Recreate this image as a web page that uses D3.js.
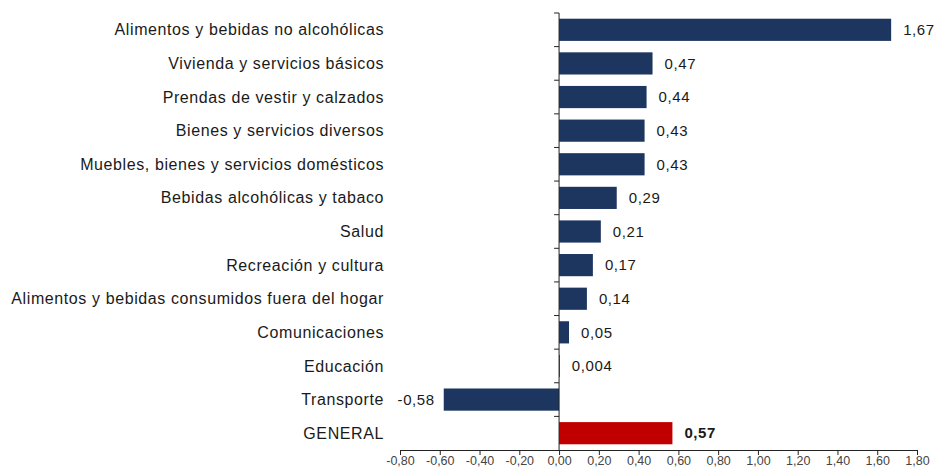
<!DOCTYPE html>
<html>
<head>
<meta charset="utf-8">
<script src="https://cdn.jsdelivr.net/npm/d3@7"></script>
<style>
  html, body { margin: 0; padding: 0; background: #ffffff; }
  svg { display: block; }
  text { font-family: "Liberation Sans", Arial, sans-serif; }
</style>
</head>
<body>
<svg id="chart" width="938" height="470"></svg>
<script>
// Variación porcentual por división de gasto
const categories = [
  "Alimentos y bebidas no alcohólicas",
  "Vivienda y servicios básicos",
  "Prendas de vestir y calzados",
  "Bienes y servicios diversos",
  "Muebles, bienes y servicios domésticos",
  "Bebidas alcohólicas y tabaco",
  "Salud",
  "Recreación y cultura",
  "Alimentos y bebidas consumidos fuera del hogar",
  "Comunicaciones",
  "Educación",
  "Transporte",
  "GENERAL"
];
const values = [1.67, 0.47, 0.44, 0.43, 0.43, 0.29, 0.21, 0.17, 0.14, 0.05, 0.004, -0.58, 0.57];
const valueLabels = ["1,67", "0,47", "0,44", "0,43", "0,43", "0,29", "0,21", "0,17", "0,14", "0,05", "0,004", "-0,58", "0,57"];
const xTicks = [-0.8, -0.6, -0.4, -0.2, 0, 0.2, 0.4, 0.6, 0.8, 1.0, 1.2, 1.4, 1.6, 1.8];

const svg = d3.select("#chart");

const x = d3.scaleLinear().domain([-0.8, 1.8]).range([400, 917]);
const y = d3.scaleBand().domain(categories).range([13, 450])
  .paddingInner(0.34).paddingOuter(0.17);

const fmt = v => v.toFixed(2).replace(".", ",");

// Bars
svg.append("g").selectAll("rect")
  .data(categories)
  .join("rect")
  .attr("x", (d, i) => x(Math.min(0, values[i])))
  .attr("y", d => y(d))
  .attr("width", (d, i) => Math.abs(x(values[i]) - x(0)))
  .attr("height", y.bandwidth())
  .attr("fill", d => d === "GENERAL" ? "#c00000" : "#1d3660");

// Category labels
svg.append("g").selectAll("text")
  .data(categories)
  .join("text")
  .attr("x", 384)
  .attr("y", d => y(d) + y.bandwidth() / 2)
  .attr("dy", "0.35em")
  .attr("text-anchor", "end")
  .attr("font-size", 16)
  .attr("letter-spacing", "0.6px")
  .attr("fill", "#1a1a1a")
  .text(d => d);

// Value labels
svg.append("g").selectAll("text")
  .data(categories)
  .join("text")
  .attr("x", (d, i) => values[i] < 0 ? x(values[i]) - 9 : x(values[i]) + 12)
  .attr("y", d => y(d) + y.bandwidth() / 2)
  .attr("dy", "0.35em")
  .attr("text-anchor", (d, i) => values[i] < 0 ? "end" : "start")
  .attr("font-size", 15)
  .attr("letter-spacing", "0.6px")
  .attr("font-weight", d => d === "GENERAL" ? "bold" : "normal")
  .attr("fill", "#1a1a1a")
  .text((d, i) => valueLabels[i]);

// Horizontal value axis
const xAxis = svg.append("g")
  .attr("transform", "translate(0,450)")
  .call(d3.axisBottom(x).tickValues(xTicks).tickFormat(fmt).tickSize(5).tickSizeOuter(0));
xAxis.select(".domain").attr("stroke", "#222");
xAxis.selectAll(".tick line").attr("stroke", "#222");
xAxis.selectAll(".tick text")
  .attr("font-size", 12.5)
  .attr("fill", "#444")
  .attr("y", 6)
  .attr("dy", "0.71em")
  .style("font-family", "'Liberation Sans', Arial, sans-serif");

// Vertical category axis at zero, ticks between categories
const yAxisG = svg.append("g");
yAxisG.append("line")
  .attr("x1", x(0)).attr("x2", x(0))
  .attr("y1", y.range()[0]).attr("y2", y.range()[1])
  .attr("stroke", "#222");
const boundaries = d3.range(categories.length).map(i => y.range()[0] + i * y.step());
yAxisG.selectAll("line.tick")
  .data(boundaries)
  .join("line")
  .attr("class", "tick")
  .attr("x1", x(0) - 5).attr("x2", x(0))
  .attr("y1", d => d).attr("y2", d => d)
  .attr("stroke", "#222");
</script>
</body>
</html>
